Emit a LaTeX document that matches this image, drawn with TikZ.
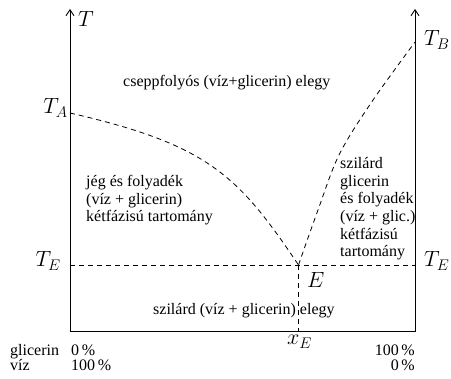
\RequirePackage{fix-cm}
\documentclass[tikz,border=0pt]{standalone}
\usepackage{fontspec}
\setmainfont{Liberation Serif}
\usetikzlibrary{arrows.meta}
\begin{document}
\begin{tikzpicture}[x=1pt,y=-1pt,
  axis/.style={line width=0.9pt, {Straight Barb[length=6pt,width=8pt]}-{Straight Barb[length=6pt,width=8pt]}},
  dline/.style={line width=0.8pt, dash pattern=on 5pt off 4pt},
  txt/.style={font=\fontsize{16}{17.7}\selectfont, inner sep=0pt},
  mth/.style={font=\fontsize{22}{24}\selectfont, inner sep=0pt}]
\useasboundingbox (0,0) rectangle (451,379);
% coordinates
\coordinate (Ttop) at (70,9);
\coordinate (O) at (70,331);
\coordinate (R) at (415,331);
\coordinate (Rtop) at (415,9);
\coordinate (TA) at (70,113);
\coordinate (TB) at (415,42);
\coordinate (E) at (298.5,265);
\coordinate (EL) at (70,265);
\coordinate (ER) at (415,265);
\coordinate (Eb) at (298.5,331);
% axes and frame
\draw[axis] (Ttop) -- (O) -- (R) -- (Rtop);
% curves
\draw[dline] (TA) .. controls (207.5,144.6) and (237.8,174.7) .. (E);
\draw[dline] plot[smooth, tension=0.55] coordinates {(E) (318,210) (339,155) (371,103) (TB)};
\draw[dline] (EL) -- (ER);
\draw[dline] (E) -- (Eb);
% math labels
\node[mth, anchor=base west] (lT) at (78,27) {$T$};
\node[mth, anchor=base east] (lTA) at (68,114) {$T_A$};
\node[mth, anchor=base west] (lTB) at (424,46) {$T_B$};
\node[mth, anchor=base east] (lTEl) at (61,267) {$T_E$};
\node[mth, anchor=base west] (lTEr) at (424,267) {$T_E$};
\node[mth, anchor=base west] (lE) at (307,288) {$E$};
\node[mth, anchor=base west] (lxE) at (287,345) {$x_E$};
% region texts
\node[txt, anchor=base west] (liq) at (123,87) {cseppfolyós (víz+glicerin) elegy};
\node[txt, anchor=base west, align=left] (left) at (86,222) {jég és folyadék\\(víz + glicerin)\\kétfázisú tartomány};
\node[txt, anchor=base west, align=left] (right) at (340,257) {szilárd\\glicerin\\és folyadék\\(víz + glic.)\\kétfázisú\\tartomány};
\node[txt, anchor=base west] (sol) at (153,315) {szilárd (víz + glicerin) elegy};
% bottom scale
\node[txt, anchor=base west] (gl) at (10,356) {glicerin};
\node[txt, anchor=base west] (vz) at (10,371) {víz};
\node[txt, anchor=base west] (gl0) at (71,356) {0\,\%};
\node[txt, anchor=base west] (vz100) at (71,371) {100\,\%};
\node[txt, anchor=base east] (gl100) at (415,356) {100\,\%};
\node[txt, anchor=base east] (vz0) at (415,371) {0\,\%};
\end{tikzpicture}
\end{document}
